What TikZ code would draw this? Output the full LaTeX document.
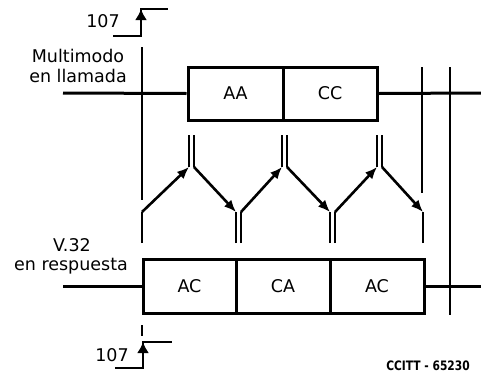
\documentclass[tikz,border=0pt]{standalone}
\usepackage{fontspec}
\setmainfont{DejaVu Sans}
\usetikzlibrary{arrows.meta}
\begin{document}
\begin{tikzpicture}[x=1pt,y=-1pt,
  lbl/.style={font=\fontsize{17.5}{20}\selectfont, inner sep=0pt},
  seg/.style={draw, line width=3pt, inner sep=0pt, font=\fontsize{17.5}{20}\selectfont},
  sig/.style={line width=3pt},
  vline/.style={line width=1.8pt},
  stp/.style={line width=2.8pt},
  arr/.style={line width=2.6pt, -{Latex[length=12pt,width=10pt]}},
  stparr/.style={line width=2.8pt, -{Latex[length=11pt,width=12pt]}},
  dbl/.style={line width=2.2pt}]
\useasboundingbox (0,0) rectangle (481,378);

% boxes
\node[seg, minimum width=95pt, minimum height=53pt] (aa) at (235.5,93.5) {AA};
\node[seg, minimum width=94pt, minimum height=53pt] (cc) at (330,93.5) {CC};
\node[seg, minimum width=93pt, minimum height=54pt] (ac1) at (189.5,286) {AC};
\node[seg, minimum width=94pt, minimum height=54pt] (ca) at (283,286) {CA};
\node[seg, minimum width=94pt, minimum height=54pt] (ac2) at (377,286) {AC};

% signal lines
\coordinate (tl) at (63,93);
\coordinate (tr) at (481,93);
\coordinate (bl) at (63,286);
\coordinate (br) at (481,286);
\draw[sig] (tl) -- (aa.west);
\draw[sig] (cc.east) -- (tr);
\draw[sig] (bl) -- (ac1.west);
\draw[sig] (ac2.east) -- (br);

% vertical markers
\coordinate (m1t) at (142,47);
\coordinate (m1b) at (142,200);
\coordinate (m2t) at (422,67);
\coordinate (m2b) at (422,193);
\coordinate (m3t) at (450,67);
\coordinate (m3b) at (450,315);
\draw[vline] (m1t) -- (m1b);
\draw[vline] (m2t) -- (m2b);
\draw[vline] (m3t) -- (m3b);
\coordinate (d1) at (142,325);
\coordinate (d2) at (142,336);
\draw[vline] (d1) -- (d2);

% top pairs
\coordinate (p1a) at (189,135); \coordinate (p1b) at (189,167);
\coordinate (p1c) at (194,135); \coordinate (p1d) at (194,167);
\coordinate (p2a) at (282,135); \coordinate (p2b) at (282,167);
\coordinate (p2c) at (287,135); \coordinate (p2d) at (287,167);
\coordinate (p3a) at (377,135); \coordinate (p3b) at (377,167);
\coordinate (p3c) at (382,135); \coordinate (p3d) at (382,167);
\draw[dbl] (p1a) -- (p1b) (p1c) -- (p1d);
\draw[dbl] (p2a) -- (p2b) (p2c) -- (p2d);
\draw[dbl] (p3a) -- (p3b) (p3c) -- (p3d);

% bottom pairs
\coordinate (q0a) at (142,243); \coordinate (q0b) at (142,212);
\coordinate (q1a) at (236,243); \coordinate (q1b) at (236,212);
\coordinate (q1c) at (241,243); \coordinate (q1d) at (241,212);
\coordinate (q2a) at (330,243); \coordinate (q2b) at (330,212);
\coordinate (q2c) at (335,243); \coordinate (q2d) at (335,212);
\coordinate (q3a) at (423,243); \coordinate (q3b) at (423,212);
\draw[dbl] (q0a) -- (q0b);
\draw[dbl] (q1a) -- (q1b) (q1c) -- (q1d);
\draw[dbl] (q2a) -- (q2b) (q2c) -- (q2d);
\draw[dbl] (q3a) -- (q3b);

% arrows
\draw[arr] (q0b) -- (p1b);
\draw[arr] (p1d) -- (q1b);
\draw[arr] (q1d) -- (p2b);
\draw[arr] (p2d) -- (q2b);
\draw[arr] (q2d) -- (p3b);
\draw[arr] (p3d) -- (q3b);

% step signals 107
\coordinate (s1a) at (113,36); \coordinate (s1b) at (141,36);
\coordinate (s1c) at (141,9); \coordinate (s1d) at (168,9);
\draw[stp] (s1a) -- (s1b) -- (s1c) -- (s1d);
\draw[stparr] (s1b) -- (s1c);
\coordinate (s2a) at (115,368); \coordinate (s2b) at (143,368);
\coordinate (s2c) at (143,342); \coordinate (s2d) at (172,342);
\draw[stp] (s2a) -- (s2b) -- (s2c) -- (s2d);
\draw[stparr] (s2b) -- (s2c);

% labels
\node[lbl] (n107a) at (103,21) {107};
\node[lbl] (n107b) at (112,355) {107};
\node[lbl] (mm) at (78,56) {Multimodo};
\node[lbl] (ll) at (78,76) {en llamada};
\node[lbl] (v32) at (72,245) {V.32};
\node[lbl] (rp) at (71,266) {en respuesta};
\node[inner sep=0pt, font=\bfseries\fontsize{13}{15}\selectfont] (ccitt) at (428,366) {\scalebox{0.82}[1]{CCITT - 65230}};
\end{tikzpicture}
\end{document}
